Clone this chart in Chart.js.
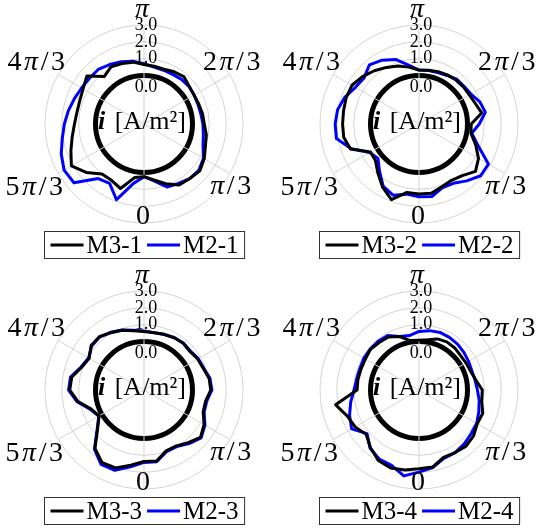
<!DOCTYPE html>
<html>
<head>
<meta charset="utf-8">
<script src="https://cdn.jsdelivr.net/npm/chart.js@4.4.1/dist/chart.umd.min.js"></script>
<style>
  html, body { margin: 0; padding: 0; background: #fff; overflow: hidden; }
  #wrap { position: relative; width: 539px; height: 530px; }
  .panel { position: absolute; width: 264px; height: 264px; }
</style>
</head>
<body>
<div id="wrap">
  <div class="panel" style="left:0;top:0"><canvas id="c1" width="264" height="264"></canvas></div>
  <div class="panel" style="left:275px;top:0"><canvas id="c2" width="264" height="264"></canvas></div>
  <div class="panel" style="left:0;top:266px"><canvas id="c3" width="264" height="264"></canvas></div>
  <div class="panel" style="left:275px;top:266px"><canvas id="c4" width="264" height="264"></canvas></div>
</div>
<script>
// Sample angles in degrees (0 at the bottom, counter-clockwise)
const angleDeg = [0, 10, 20, 30, 40, 50, 60, 70, 80, 90, 100, 110, 120, 130, 140, 150, 160, 170,
                  180, 190, 200, 210, 220, 230, 240, 250, 260, 270, 280, 290, 300, 310, 320, 330, 340, 350];

// Current density i [A/m^2] per angle
const m3_1 = [0.25, 0.5, 0.9, 1.3, 1.35, 1.45, 1.25, 1.0, 0.88, 0.7, 0.65, 0.58, 0.55, 0.62, 0.8, 0.7, 0.58, 0.6,
              0.65, 0.85, 0.94, 1.04, 0.8, 1.55, 1.3, 1.18, 1.16, 1.25, 1.45, 1.74, 2.1, 1.6, 1.0, 0.98, 1.2, 0.35];
const m2_1 = [0.25, 0.55, 1.1, 1.2, 1.35, 1.38, 1.2, 0.85, 0.7, 0.62, 0.55, 0.53, 0.56, 0.6, 0.58, 0.52, 0.52, 0.55,
              0.7, 0.9, 1.05, 1.2, 1.35, 1.35, 1.4, 1.52, 1.68, 1.85, 2.05, 2.35, 2.6, 2.55, 1.35, 1.2, 1.9, 0.7];

const m3_2 = [1.28, 1.3, 1.08, 0.98, 1.12, 1.5, 1.2, 0.7, 0.25, 0.22, 0.9, 0.68, 0.57, 0.56, 0.53, 0.49, 0.43, 0.36,
              0.33, 0.55, 0.79, 1.0, 1.25, 1.5, 1.72, 1.72, 1.67, 1.66, 1.66, 1.45, 0.45, 0.5, 0.92, 1.45, 1.9, 1.25];
const m2_2 = [1.44, 1.5, 1.15, 1.19, 1.53, 1.9, 1.88, 0.85, 0.3, 0.7, 1.12, 0.97, 0.68, 0.61, 0.6, 0.45, 0.37, 0.34,
              0.32, 0.67, 1.2, 1.5, 1.7, 1.38, 1.48, 1.8, 2.03, 2.1, 2.1, 1.4, 0.5, 0.3, 0.77, 1.38, 1.62, 1.35];

const m3_3 = [1.36, 1.4, 0.97, 0.95, 1.2, 1.5, 1.24, 0.86, 0.84, 1.09, 1.05, 0.87, 0.8, 0.68, 0.74, 0.7, 0.63, 0.57,
              0.6, 0.7, 0.9, 1.05, 1.25, 1.22, 0.88, 1.06, 1.48, 1.53, 1.1, 0.45, 0.2, 0.72, 1.65, 2.1, 2.05, 1.65];
const m2_3 = [1.42, 1.45, 1.02, 1.0, 1.28, 1.55, 1.3, 0.92, 0.9, 1.15, 1.1, 0.9, 0.84, 0.72, 0.76, 0.72, 0.64, 0.58,
              0.62, 0.72, 0.92, 1.08, 1.22, 1.18, 0.92, 1.1, 1.55, 1.6, 1.15, 0.5, 0.22, 0.75, 1.7, 2.22, 2.2, 1.75];

const m3_4 = [1.8, 1.77, 1.38, 1.41, 1.47, 1.35, 1.12, 1.15, 0.9, 0.88, 0.55, 0.38, 0.34, 0.33, 0.4, 0.42, 0.35, 0.15,
              0.08, 0.1, 0.5, 0.75, 0.8, 0.88, 0.8, 0.78, 0.8, 0.8, 2.15, 1.65, 1.5, 1.22, 1.6, 1.95, 2.05, 1.95];
const m2_4 = [2.0, 1.8, 1.44, 1.41, 1.3, 1.16, 1.08, 0.9, 0.75, 0.59, 0.5, 0.46, 0.52, 0.6, 0.68, 0.73, 0.76, 0.7,
              0.6, 0.4, 0.5, 0.85, 0.9, 0.9, 0.9, 0.86, 0.88, 0.98, 1.24, 1.51, 1.74, 1.15, 1.64, 1.85, 1.88, 2.3];

// Radial tick values and angular tick labels
const radialTicks = [0, 1, 2, 3];
const angleTickDeg = [0, 60, 120, 180, 240, 300];
const angleTickLabels = ['0', 'π/3', '2π/3', 'π', '4π/3', '5π/3'];

const panels = [
  { id: 'c1', names: ['M3-1', 'M2-1'], series: [m3_1, m2_1] },
  { id: 'c2', names: ['M3-2', 'M2-2'], series: [m3_2, m2_2] },
  { id: 'c3', names: ['M3-3', 'M2-3'], series: [m3_3, m2_3] },
  { id: 'c4', names: ['M3-4', 'M2-4'], series: [m3_4, m2_4] }
];

const SERIF = '"Liberation Serif", "Times New Roman", serif';
const N = angleDeg.length;
const STEP = 360 / N;

// Radar index j runs clockwise from the top, i.e. angle = 180 - j*STEP
function radarIndex(deg) {
  return (((180 - deg) / STEP) % N + N) % N;
}
function reorder(arr) {
  const out = [];
  for (let j = 0; j < N; j++) {
    out.push(arr[radarIndex(j * STEP)]);
  }
  return out;
}

// Fine placement of the angular labels around the rim (px)
const angleLabelNudge = {
  0: [-1, -6], 60: [1, 13], 120: [2, -12], 180: [-2, -15], 240: [-22, -12], 300: [-24, 14]
};

function drawMixed(ctx, text, cx, cy, size, gap) {
  // digits and slash upright, pi italic, drawn glyph by glyph
  const parts = [];
  for (const ch of text) {
    parts.push({ t: ch, f: (ch === 'π' ? 'italic ' : '') + `${size}px ${SERIF}` });
  }
  let total = gap * (parts.length - 1);
  parts.forEach(p => { ctx.font = p.f; p.w = ctx.measureText(p.t).width; total += p.w; });
  let x = cx - total / 2;
  ctx.textBaseline = 'middle';
  ctx.textAlign = 'left';
  parts.forEach(p => { ctx.font = p.f; ctx.fillText(p.t, x, cy); x += p.w + gap; });
}

const polarDecor = {
  id: 'polarDecor',
  afterDatasetsDraw(chart) {
    // radial tick labels stacked above the centre
    const s = chart.scales.r;
    const ctx = chart.ctx;
    ctx.save();
    ctx.fillStyle = '#000';
    ctx.font = `18px ${SERIF}`;
    ctx.textAlign = 'center';
    ctx.textBaseline = 'middle';
    radialTicks.forEach(v => {
      const d = s.getDistanceFromCenterForValue(v) - (v === 0 ? 12 : 0);
      ctx.fillText(v.toFixed(1), s.xCenter + 2, s.yCenter - d);
    });
    ctx.restore();
  },
  afterDraw(chart) {
    const s = chart.scales.r;
    const ctx = chart.ctx;
    ctx.save();
    ctx.fillStyle = '#000';

    // angular labels
    angleTickDeg.forEach((deg, k) => {
      const p = s.getPointPosition(radarIndex(deg), s.drawingArea);
      const n = angleLabelNudge[deg];
      drawMixed(ctx, angleTickLabels[k], p.x + n[0], p.y + n[1], 28, 2.5);
    });

    // quantity label in the hole
    const fI = `italic bold 26px ${SERIF}`;
    const fU = `26px ${SERIF}`;
    const tU = ' [A/m²]';
    ctx.font = fI; const wI = ctx.measureText('i').width + 3;
    ctx.font = fU; const wU = ctx.measureText(tU).width;
    const x0 = s.xCenter - (wI + wU) / 2 - 2;
    const y0 = s.yCenter - 2;
    ctx.textBaseline = 'middle'; ctx.textAlign = 'left';
    ctx.font = fI; ctx.fillText('i', x0, y0);
    ctx.font = fU; ctx.fillText(tU, x0 + wI, y0);

    // boxed legend below the plot
    ctx.font = `25px ${SERIF}`;
    const lineLen = 33, gapLT = 3, gapItem = 5, padX = 6, boxH = 27;
    const items = chart.data.datasets.map(ds => ({ text: ds.label, color: ds.borderColor, w: ctx.measureText(ds.label).width }));
    let total = 2 * padX + gapItem * (items.length - 1);
    items.forEach(it => { total += lineLen + gapLT + it.w; });
    const bx = Math.round(s.xCenter - total / 2) + 0.5;
    const by = Math.round(s.yCenter + 107) + 0.5;
    ctx.strokeStyle = '#333';
    ctx.lineWidth = 1;
    ctx.strokeRect(bx, by, total, boxH);
    let x = bx + padX;
    const ym = by + boxH / 2;
    items.forEach(it => {
      ctx.strokeStyle = it.color; ctx.lineWidth = 3;
      ctx.beginPath(); ctx.moveTo(x, ym); ctx.lineTo(x + lineLen, ym); ctx.stroke();
      x += lineLen + gapLT;
      ctx.fillStyle = '#000'; ctx.textBaseline = 'middle'; ctx.textAlign = 'left';
      ctx.fillText(it.text, x, ym + 1);
      x += it.w + gapItem;
    });
    ctx.restore();
  }
};

const colors = ['#000000', '#0000ff'];

panels.forEach(pn => {
  new Chart(document.getElementById(pn.id), {
    type: 'radar',
    data: {
      labels: reorder(angleDeg).map(String),
      datasets: pn.series.map((ser, i) => ({
        label: pn.names[i],
        data: reorder(ser),
        borderColor: colors[i],
        backgroundColor: 'transparent',
        borderWidth: 3,
        borderJoinStyle: 'round',
        fill: false,
        tension: 0,
        pointRadius: 0,
        pointHoverRadius: 0
      }))
    },
    options: {
      responsive: false,
      animation: false,
      layout: { padding: { left: 45, right: 21, top: 25, bottom: 41 } },
      plugins: { legend: { display: false }, tooltip: { enabled: false } },
      scales: {
        r: {
          min: -2.88,
          max: 3,
          startAngle: 0,
          afterBuildTicks: (scale) => { scale.ticks = radialTicks.map(v => ({ value: v })); },
          ticks: { display: false },
          grid: {
            circular: true,
            color: (c) => (c.tick && c.tick.value === 0 ? '#000' : '#d4d4d4'),
            lineWidth: (c) => (c.tick && c.tick.value === 0 ? 5 : 1)
          },
          angleLines: {
            display: true,
            color: '#d4d4d4',
            lineWidth: (c) => (c.index % 6 === 0 ? 1 : 0)
          },
          pointLabels: { display: false }
        }
      }
    },
    plugins: [polarDecor]
  });
});
</script>
</body>
</html>
